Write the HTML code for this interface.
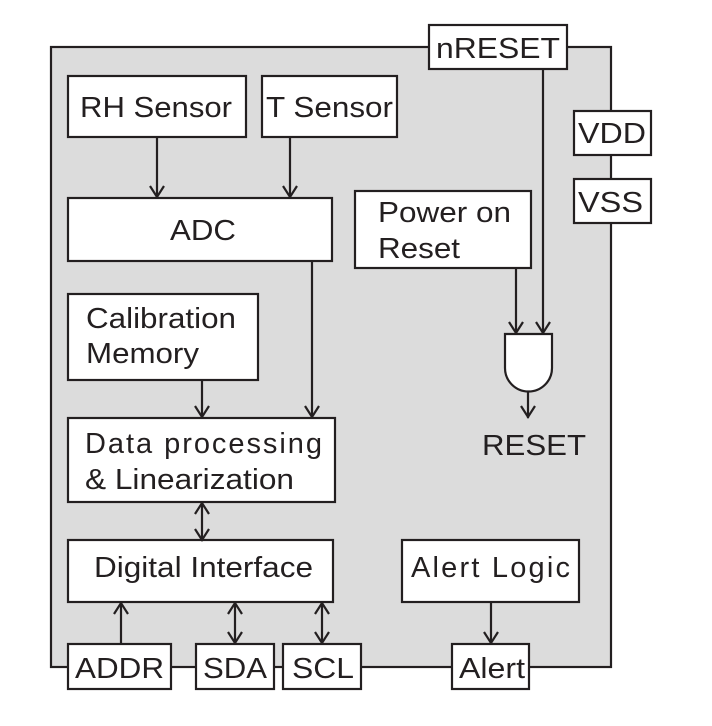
<!DOCTYPE html>
<html><head><meta charset="utf-8"><style>html,body{margin:0;padding:0;background:#fff}svg{display:block}</style></head>
<body>
<svg width="712" height="726" viewBox="0 0 712 726" xmlns="http://www.w3.org/2000/svg" font-family="Liberation Sans, Arial, sans-serif" font-size="29" fill="#231f20">
<g stroke="#231f20" stroke-width="2.2">
<rect x="51" y="47" width="560" height="620" fill="#dcdcdc"/>
<g fill="#fff">
<rect x="429" y="25" width="138" height="44"/>
<rect x="574" y="111" width="77" height="44"/>
<rect x="574" y="179" width="77" height="44"/>
<rect x="68" y="76" width="178" height="61"/>
<rect x="262" y="76" width="135" height="61"/>
<rect x="68" y="198" width="264" height="63"/>
<rect x="355" y="191" width="176" height="77"/>
<rect x="68" y="294" width="190" height="86"/>
<rect x="68" y="418" width="267" height="84"/>
<rect x="68" y="540" width="265" height="62"/>
<rect x="402" y="540" width="177" height="62"/>
<rect x="68" y="644" width="103" height="45"/>
<rect x="196" y="644" width="78" height="45"/>
<rect x="283" y="644" width="78" height="45"/>
<rect x="452" y="644" width="77" height="45"/>
<path d="M505 334 H552 V368 A23.5 23.5 0 0 1 505 368 Z"/>
</g>
<g fill="none">
<path d="M157 137V198M290 137V198M312 261V418M516 268V334M543 69V334M528 392V418M202 380V418M202 502V540M121 602V644M235 602V644M322 602V644M491 602V644"/>
<path d="M150 186L157 197L164 186M283 186L290 197L297 186M305 406L312 417L319 406M509 322L516 333L523 322M536 322L543 333L550 322M521 406L528 417L535 406M195 406L202 417L209 406M195 529L202 540L209 529M228 632L235 643L242 632M315 632L322 643L329 632M484 632L491 643L498 632"/>
<path d="M195 514L202 503L209 514M114 614L121 603L128 614M228 614L235 603L242 614M315 614L322 603L329 614"/>
</g>
</g>
<text x="436" y="58" textLength="124" lengthAdjust="spacingAndGlyphs">nRESET</text>
<text x="578" y="143" textLength="68" lengthAdjust="spacingAndGlyphs">VDD</text>
<text x="578" y="212" textLength="65" lengthAdjust="spacingAndGlyphs">VSS</text>
<text x="80" y="117" textLength="152" lengthAdjust="spacingAndGlyphs">RH Sensor</text>
<text x="266" y="117" textLength="127" lengthAdjust="spacingAndGlyphs">T Sensor</text>
<text x="170" y="240" textLength="66" lengthAdjust="spacingAndGlyphs">ADC</text>
<text x="378" y="222" textLength="133" lengthAdjust="spacingAndGlyphs">Power on</text>
<text x="378" y="258" textLength="82" lengthAdjust="spacingAndGlyphs">Reset</text>
<text x="86" y="328" textLength="150" lengthAdjust="spacingAndGlyphs">Calibration</text>
<text x="86" y="363" textLength="113" lengthAdjust="spacingAndGlyphs">Memory</text>
<text x="85" y="453" textLength="237" lengthAdjust="spacing">Data  processing</text>
<text x="85" y="489" textLength="209" lengthAdjust="spacingAndGlyphs">&amp; Linearization</text>
<text x="482" y="455" textLength="104" lengthAdjust="spacingAndGlyphs">RESET</text>
<text x="94" y="577" textLength="219" lengthAdjust="spacingAndGlyphs">Digital Interface</text>
<text x="411" y="577" textLength="159" lengthAdjust="spacing">Alert  Logic</text>
<text x="75" y="678" textLength="89" lengthAdjust="spacingAndGlyphs">ADDR</text>
<text x="203" y="678" textLength="64" lengthAdjust="spacingAndGlyphs">SDA</text>
<text x="292" y="678" textLength="62" lengthAdjust="spacingAndGlyphs">SCL</text>
<text x="459" y="678" textLength="66" lengthAdjust="spacingAndGlyphs">Alert</text>
</svg>
</body></html>
